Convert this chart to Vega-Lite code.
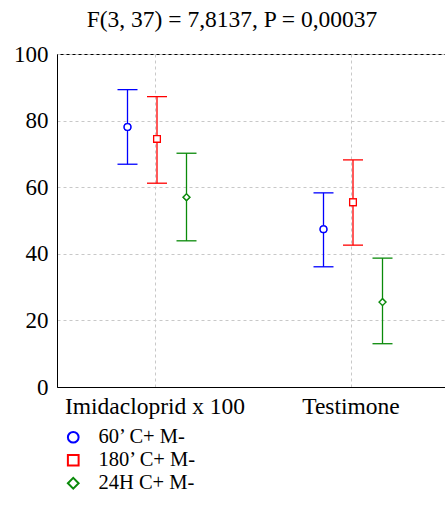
{
  "$schema": "https://vega.github.io/schema/vega-lite/v6.json",
  "autosize": "none",
  "padding": {"left": 57, "top": 54, "right": 0, "bottom": 118},
  "width": 392,
  "height": 333,
  "background": "white",
  "title": {
    "text": "F(3, 37) = 7,8137, P = 0,00037",
    "font": "Liberation Serif",
    "fontSize": 23.5,
    "fontWeight": "normal",
    "color": "black",
    "anchor": "middle",
    "frame": "group",
    "dx": -21,
    "offset": 12
  },
  "config": {
    "view": {"stroke": "black", "strokeWidth": 1},
    "font": "Liberation Serif",
    "legend": {"symbolFillColor": "white"}
  },
  "data": {
    "values": [
      {"group": "Imidacloprid x 100", "series": "60’ C+ M-", "mean": 78.1, "lo": 66.9, "hi": 89.3},
      {"group": "Imidacloprid x 100", "series": "180’ C+ M-", "mean": 74.5, "lo": 61.2, "hi": 87.2},
      {"group": "Imidacloprid x 100", "series": "24H C+ M-", "mean": 57.0, "lo": 43.9, "hi": 70.2},
      {"group": "Testimone", "series": "60’ C+ M-", "mean": 47.4, "lo": 36.1, "hi": 58.3},
      {"group": "Testimone", "series": "180’ C+ M-", "mean": 55.5, "lo": 42.6, "hi": 68.2},
      {"group": "Testimone", "series": "24H C+ M-", "mean": 25.5, "lo": 13.0, "hi": 38.7}
    ]
  },
  "encoding": {
    "x": {
      "field": "group",
      "type": "nominal",
      "sort": ["Imidacloprid x 100", "Testimone"],
      "scale": {"type": "band", "paddingInner": 0, "paddingOuter": 0},
      "axis": {
        "title": null,
        "labelAngle": 0,
        "labelFont": "Liberation Serif",
        "labelFontSize": 23.5,
        "labelLimit": 0,
        "labelColor": "black",
        "labelPadding": 7,
        "ticks": false,
        "domain": true,
        "domainColor": "black",
        "grid": true,
        "gridColor": "#c8c8c8",
        "gridDash": [3, 3]
      }
    },
    "xOffset": {
      "field": "series",
      "type": "nominal",
      "sort": ["60’ C+ M-", "180’ C+ M-", "24H C+ M-"],
      "scale": {"type": "point", "range": [70.5, 129.5], "padding": 0}
    }
  },
  "layer": [
    {
      "mark": {"type": "point", "filled": false, "size": 45, "strokeWidth": 1.3, "opacity": 1},
      "encoding": {
        "y": {
          "field": "mean",
          "type": "quantitative",
          "scale": {"domain": [0, 100], "nice": false},
          "axis": {
            "title": null,
            "values": [0, 10, 20, 30, 40, 50, 60, 70, 80, 90, 100],
            "labelExpr": "datum.value % 20 === 0 ? datum.label : ''",
            "labelFont": "Liberation Serif",
            "labelFontSize": 23,
            "labelColor": "black",
            "labelPadding": 9,
            "ticks": false,
            "domainColor": "black",
            "gridColor": "#c8c8c8",
            "gridDash": [3, 3]
          }
        },
        "stroke": {
          "field": "series",
          "type": "nominal",
          "scale": {"domain": ["60’ C+ M-", "180’ C+ M-", "24H C+ M-"], "range": ["#0000ff", "#ff0000", "#0a8a0a"]},
          "legend": {
            "title": null,
            "orient": "none",
            "legendX": 6,
            "legendY": 373,
            "labelFont": "Liberation Serif",
            "labelFontSize": 20.5,
            "labelColor": "black",
            "labelOffset": 15,
            "symbolSize": 115,
            "symbolStrokeWidth": 2,
            "symbolFillColor": "white",
            "rowPadding": 2,
            "encode": {"symbols": {"update": {"fill": {"value": "white"}}}}
          }
        },
        "shape": {
          "field": "series",
          "type": "nominal",
          "scale": {"domain": ["60’ C+ M-", "180’ C+ M-", "24H C+ M-"], "range": ["circle", "square", "diamond"]},
          "legend": {
            "title": null,
            "orient": "none",
            "legendX": 6,
            "legendY": 373,
            "labelFont": "Liberation Serif",
            "labelFontSize": 20.5,
            "labelColor": "black",
            "labelOffset": 15,
            "symbolSize": 115,
            "symbolStrokeWidth": 2,
            "symbolFillColor": "white",
            "rowPadding": 2,
            "encode": {"symbols": {"update": {"fill": {"value": "white"}}}}
          }
        }
      }
    },
    {
      "mark": {"type": "rule", "strokeWidth": 1.3},
      "encoding": {
        "y": {"field": "lo", "type": "quantitative"},
        "y2": {"field": "hi"},
        "stroke": {"field": "series", "type": "nominal"}
      }
    },
    {
      "mark": {"type": "point", "filled": false, "shape": "M-1,0L1,0", "size": 400, "strokeWidth": 1.3, "opacity": 1},
      "encoding": {
        "y": {"field": "lo", "type": "quantitative"},
        "stroke": {"field": "series", "type": "nominal"}
      }
    },
    {
      "mark": {"type": "point", "filled": false, "shape": "M-1,0L1,0", "size": 400, "strokeWidth": 1.3, "opacity": 1},
      "encoding": {
        "y": {"field": "hi", "type": "quantitative"},
        "stroke": {"field": "series", "type": "nominal"}
      }
    },
    {
      "mark": {"type": "point", "filled": false, "fill": "white", "size": 45, "strokeWidth": 1.3, "opacity": 1},
      "encoding": {
        "y": {"field": "mean", "type": "quantitative"},
        "stroke": {"field": "series", "type": "nominal"},
        "shape": {"field": "series", "type": "nominal"}
      }
    }
  ]
}
